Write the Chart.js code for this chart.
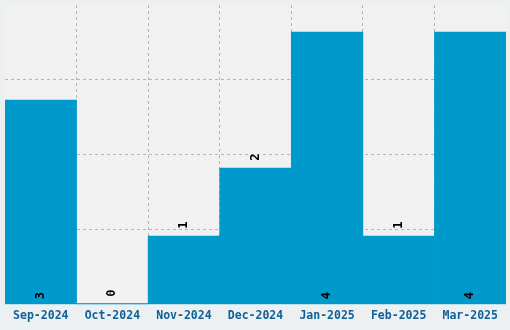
<!DOCTYPE html>
<html>
<head>
<meta charset="utf-8">
<script src="https://cdn.jsdelivr.net/npm/chart.js@4"></script>
<style>
html,body{margin:0;padding:0;background:#ecf0f1;}
#wrap{width:510px;height:330px;}
</style>
</head>
<body>
<div id="wrap"><canvas id="c" width="510" height="330"></canvas></div>
<script>
const categories = ['Sep-2024','Oct-2024','Nov-2024','Dec-2024','Jan-2025','Feb-2025','Mar-2025'];
const counts = [3, 0, 1, 2, 4, 1, 4];
const yTicks = [0, 1.1, 2.2, 3.3, 4.4];

const barColor = '#0099cc';

const bgPlugin = {
  id: 'bg',
  beforeDraw(chart) {
    const {ctx, chartArea: a} = chart;
    ctx.save();
    ctx.fillStyle = '#ecf0f1';
    ctx.fillRect(0, 0, chart.width, chart.height);
    ctx.fillStyle = '#f1f1f1';
    ctx.fillRect(a.left, a.top, a.right - a.left, a.bottom - a.top);
    ctx.restore();
  },
  afterDatasetsDraw(chart) {
    const {ctx, chartArea: a} = chart;
    ctx.save();
    ctx.fillStyle = barColor;
    ctx.fillRect(a.left, a.bottom - 1, a.right - a.left, 1);
    ctx.restore();
  }
};

const valuePlugin = {
  id: 'vals',
  afterDraw(chart) {
    const {ctx} = chart;
    const meta = chart.getDatasetMeta(0);
    ctx.save();
    ctx.font = 'bold 12px "DejaVu Sans Mono", monospace';
    ctx.fillStyle = '#000';
    ctx.textAlign = 'center';
    ctx.textBaseline = 'middle';
    meta.data.forEach((el, i) => {
      const h = el.base - el.y;
      let y;
      if (h > 150) y = el.base - 8;
      else y = el.y - 11;
      ctx.save();
      ctx.translate(el.x, y);
      ctx.rotate(-Math.PI / 2);
      ctx.fillText(String(counts[i]), 0, 0);
      ctx.restore();
    });
    ctx.restore();
  }
};

const gridCol = 'rgba(0,0,0,0.25)';
const clear = 'rgba(0,0,0,0)';

new Chart(document.getElementById('c'), {
  type: 'bar',
  data: {
    labels: categories,
    datasets: [{
      data: counts,
      backgroundColor: barColor,
      borderWidth: 0,
      barPercentage: 1,
      categoryPercentage: 1
    }]
  },
  options: {
    responsive: false,
    animation: false,
    devicePixelRatio: 1,
    layout: {padding: {left: 5, right: 4, top: 5, bottom: 2}},
    plugins: {legend: {display: false}, tooltip: {enabled: false}},
    scales: {
      x: {
        z: 1,
        grid: {
          drawTicks: false,
          offset: true,
          color: (c) => (c.type !== 'tick' || c.index === 0) ? clear : gridCol,
          lineWidth: 1
        },
        border: {display: false, dash: [3, 3]},
        ticks: {
          padding: 5,
          color: '#10609a',
          font: {family: '"DejaVu Sans Mono", monospace', size: 11.5, weight: 'bold'},
          maxRotation: 0
        }
      },
      y: {
        z: 1,
        min: 0,
        max: 4.4,
        afterBuildTicks(scale) { scale.ticks = yTicks.map(v => ({value: v})); },
        ticks: {display: false},
        grid: {
          drawTicks: false,
          color: (c) => (c.type !== 'tick' || c.index === 0 || c.index === yTicks.length - 1) ? clear : gridCol,
          lineWidth: 1
        },
        border: {display: false, dash: [3, 3]}
      }
    }
  },
  plugins: [bgPlugin, valuePlugin]
});
</script>
</body>
</html>
